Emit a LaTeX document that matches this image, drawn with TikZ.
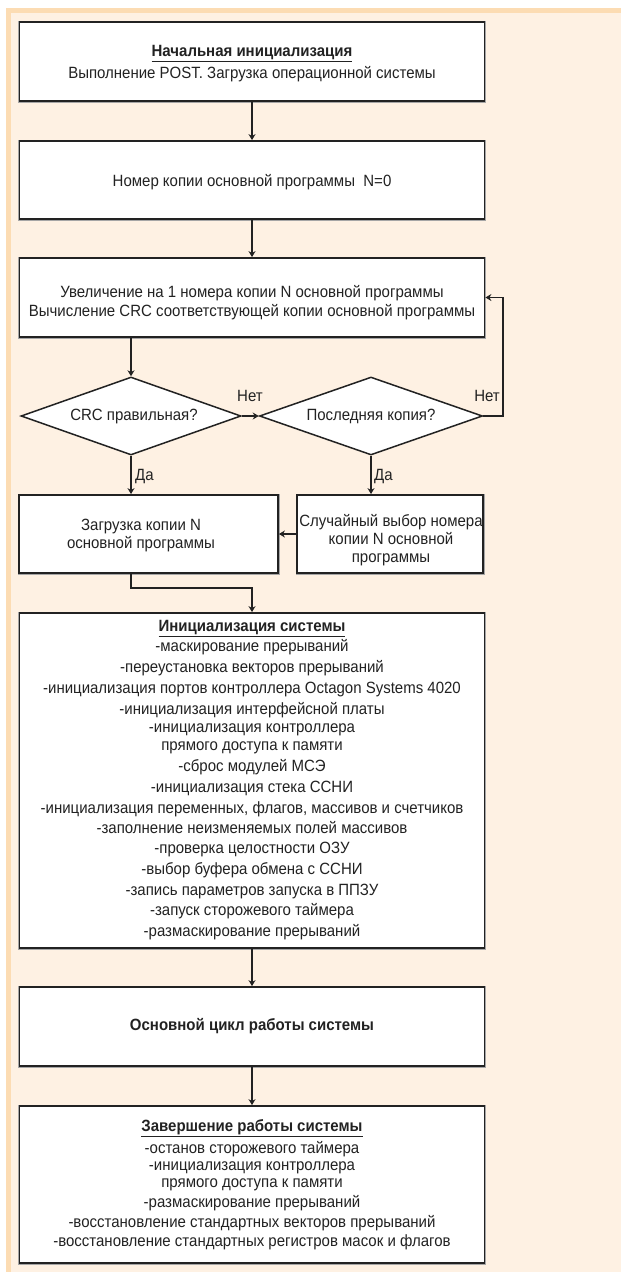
\documentclass[tikz,border=0pt]{standalone}
\usepackage{fontspec}
\setmainfont{Liberation Sans}[FakeStretch=0.92]
\usetikzlibrary{arrows.meta,shapes.geometric}
\definecolor{bgorange}{HTML}{FCDCB3}
\definecolor{bgcream}{HTML}{FEF1E3}
\definecolor{ink}{HTML}{222222}
\tikzset{
  box/.style={draw=ink, line width=1.8pt, fill=white, text=ink, align=center,
    inner sep=0pt, preaction={draw=black!35, line width=3pt}},
  boxtext/.style={text=ink, align=center, inner sep=0pt},
  decision/.style={draw=ink, line width=1.5pt, fill=white, text=ink, shape=diamond,
    inner sep=0pt, aspect=2.82},
  flow/.style={draw=ink, line width=1.5pt, -{Stealth[length=6pt,width=7pt]}},
  lbl/.style={text=ink, inner sep=0pt},
  txt/.style={font=\fontsize{16.3}{18}\selectfont}
}
\begin{document}
\begin{tikzpicture}[x=1pt,y=-1pt]
\useasboundingbox (0,0) rectangle (621,1272);
\fill[white] (0,0) rectangle (621,1272);
\fill[bgorange] (6,8) rectangle (621,1272);
\fill[bgcream] (11,13) rectangle (621,1272);

% boxes
\node[box, minimum width=465pt, minimum height=79pt] (b1) at (252,61.5) {};
\node[boxtext, txt] (b1t) at (252,64)
  {\textbf{\underline{Начальная инициализация}}\\[4pt]Выполнение POST. Загрузка операционной системы};
\node[box, txt, minimum width=465pt, minimum height=78pt] (b2) at (252,180) {};
\node[boxtext, txt] (b2t) at (252,182)
  {Номер копии основной программы\ \ N=0};
\node[box, minimum width=465pt, minimum height=79pt] (b3) at (252,297.5) {};
\node[boxtext, font=\fontsize{16.3}{19}\selectfont] (b3t) at (252,303)
  {Увеличение на 1 номера копии N основной программы\\Вычисление CRC соответствующей копии основной программы};
\node[decision, txt, minimum width=220pt, minimum height=78pt] (d1) at (131,416)
  {\hspace*{6pt}CRC правильная?};
\node[decision, txt, minimum width=223pt, minimum height=78pt] (d2) at (371,416)
  {Последняя копия?};
\node[box, minimum width=259pt, minimum height=78pt] (b4) at (148.5,534) {};
\node[boxtext, txt] (b4t) at (141,535)
  {Загрузка копии N\\основной программы};
\node[box, minimum width=186pt, minimum height=78pt] (b5) at (390,534) {};
\node[boxtext, txt] (b5t) at (391,540)
  {Случайный выбор номера\\копии N основной\\программы};
\node[box, txt, minimum width=465pt, minimum height=335pt] (b6) at (252,780.5)
  {\textbf{\underline{Инициализация системы}}\\[2pt]
   -маскирование прерываний\\[3pt]
   -переустановка векторов прерываний\\[3pt]
   -инициализация портов контроллера Octagon Systems 4020\\[3pt]
   -инициализация интерфейсной платы\\
   -инициализация контроллера\\
   прямого доступа к памяти\\[3pt]
   -сброс модулей МСЭ\\[3pt]
   -инициализация стека ССНИ\\[3pt]
   -инициализация переменных, флагов, массивов и счетчиков\\[2pt]
   -заполнение неизменяемых полей массивов\\[2pt]
   -проверка целостности ОЗУ\\[3pt]
   -выбор буфера обмена с ССНИ\\[3pt]
   -запись параметров запуска в ППЗУ\\[2pt]
   -запуск сторожевого таймера\\[3pt]
   -размаскирование прерываний};
\node[box, txt, minimum width=465pt, minimum height=79pt] (b7) at (252,1026.5)
  {\textbf{Основной цикл работы системы}};
\node[box, font=\fontsize{16.3}{17}\selectfont, minimum width=465pt, minimum height=157pt] (b8) at (252,1184.5)
  {\textbf{\underline{Завершение работы системы}}\\[3pt]
   -останов сторожевого таймера\\
   -инициализация контроллера\\
   прямого доступа к памяти\\[3pt]
   -размаскирование прерываний\\[3pt]
   -восстановление стандартных векторов прерываний\\[2pt]
   -восстановление стандартных регистров масок и флагов};

\coordinate (loopR) at (503,416);
\coordinate (joinA) at (131,588);

\draw[flow] (b1) -- (b2);
\draw[flow] (b2) -- (b3);
\draw[flow] (b3.south -| d1.north) -- (d1.north);
\draw[flow] (d1.east) -- (d2.west);
\draw[flow] (d2.east) -- (loopR) |- (b3.east);
\draw[flow] (d1.south) -- (d1.south |- b4.north);
\draw[flow] (d2.south) -- (d2.south |- b5.north);
\draw[flow] (b5.west) -- (b5.west -| b4.east);
\draw[flow] (b4.south -| joinA) -- (joinA) -| (b6.north);
\draw[flow] (b6) -- (b7);
\draw[flow] (b7) -- (b8);

\node[lbl, txt, anchor=center] (n1) at (250,396) {Нет};
\node[lbl, txt, anchor=east] (n2) at (500,396) {Нет};
\node[lbl, txt, anchor=west] (y1) at (135,477) {Да};
\node[lbl, txt, anchor=west] (y2) at (374,477) {Да};
\end{tikzpicture}
\end{document}
